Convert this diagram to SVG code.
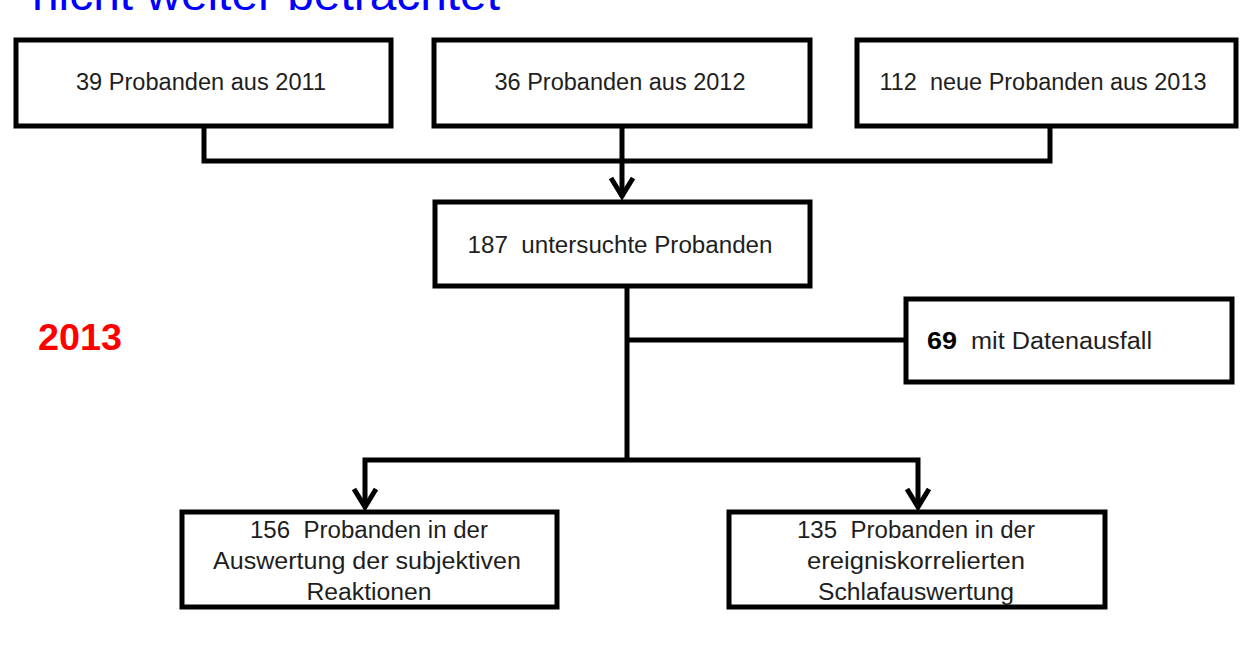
<svg xmlns="http://www.w3.org/2000/svg" width="1245" height="649" viewBox="0 0 1245 649">
<style>
.box{fill:#fff;stroke:#000;stroke-width:5}
.ln{fill:none;stroke:#000;stroke-width:5}
.ah{fill:none;stroke:#000;stroke-width:5;stroke-linejoin:miter}
.t{font-family:"Liberation Sans",Arial,sans-serif;font-size:23px;fill:#1e1e1e;text-anchor:middle}
</style>
<rect width="1245" height="649" fill="#fff"/>
<text x="32" y="10" font-family="Liberation Sans,Arial,sans-serif" font-size="47" fill="#0000ff" textLength="468" lengthAdjust="spacingAndGlyphs">nicht weiter betrachtet</text>
<g id="connectors">
<polyline class="ln" points="204,127 204,161 1050,161 1050,127"/>
<line class="ln" x1="622" y1="127" x2="622" y2="197"/>
<polyline class="ah" points="611,178 622,196 633,178"/>
<line class="ln" x1="627" y1="288" x2="627" y2="460"/>
<line class="ln" x1="627" y1="340" x2="904" y2="340"/>
<polyline class="ln" points="365,507 365,460 918,460 918,507"/>
<polyline class="ah" points="354,489 365,507 376,489"/>
<polyline class="ah" points="907,489 918,507 929,489"/>
</g>
<g id="n1"><rect class="box" x="16" y="40" width="375" height="86"/><text class="t" x="201" y="90" textLength="250" lengthAdjust="spacingAndGlyphs">39 Probanden aus 2011</text></g>
<g id="n2"><rect class="box" x="434" y="40" width="376" height="86"/><text class="t" x="620" y="90" textLength="251" lengthAdjust="spacingAndGlyphs">36 Probanden aus 2012</text></g>
<g id="n3"><rect class="box" x="857" y="40" width="379" height="86"/><text class="t" x="1043" y="90" textLength="327" lengthAdjust="spacingAndGlyphs" xml:space="preserve">112  neue Probanden aus 2013</text></g>
<g id="n4"><rect class="box" x="435" y="202" width="375" height="84"/><text class="t" x="620" y="253" textLength="305" lengthAdjust="spacingAndGlyphs" xml:space="preserve">187  untersuchte Probanden</text></g>
<g id="n5"><rect class="box" x="906" y="299" width="326" height="83"/><text x="927" y="349" font-family="Liberation Sans,Arial,sans-serif" font-size="24" font-weight="bold" fill="#000" textLength="30" lengthAdjust="spacingAndGlyphs">69</text><text x="971" y="349" font-family="Liberation Sans,Arial,sans-serif" font-size="23" fill="#1e1e1e" textLength="181" lengthAdjust="spacingAndGlyphs">mit Datenausfall</text></g>
<g id="n6"><rect class="box" x="182" y="512" width="375" height="95"/>
<text class="t" x="369" y="538" textLength="238" lengthAdjust="spacingAndGlyphs" xml:space="preserve">156  Probanden in der</text>
<text class="t" x="367" y="569" textLength="308" lengthAdjust="spacingAndGlyphs">Auswertung der subjektiven</text>
<text class="t" x="369" y="600" textLength="125" lengthAdjust="spacingAndGlyphs">Reaktionen</text></g>
<g id="n7"><rect class="box" x="729" y="512" width="376" height="95"/>
<text class="t" x="916" y="538" textLength="238" lengthAdjust="spacingAndGlyphs" xml:space="preserve">135  Probanden in der</text>
<text class="t" x="916" y="569" textLength="218" lengthAdjust="spacingAndGlyphs">ereigniskorrelierten</text>
<text class="t" x="916" y="600" textLength="196" lengthAdjust="spacingAndGlyphs">Schlafauswertung</text></g>
<text x="38" y="350" font-family="Liberation Sans,Arial,sans-serif" font-size="36" font-weight="bold" fill="#ff0000" textLength="84" lengthAdjust="spacingAndGlyphs">2013</text>
</svg>
